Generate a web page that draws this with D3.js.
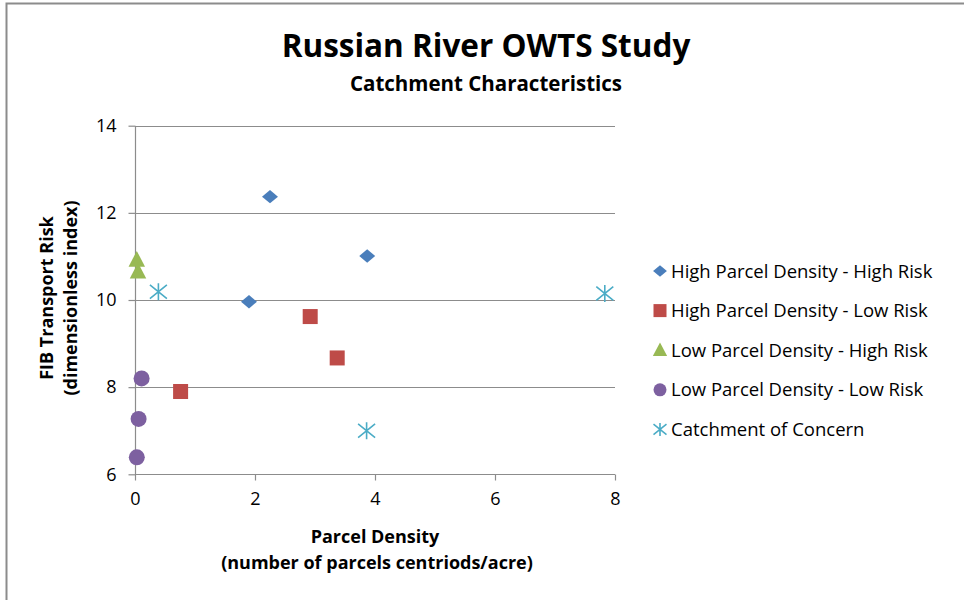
<!DOCTYPE html>
<html>
<head>
<meta charset="utf-8">
<script src="https://cdn.jsdelivr.net/npm/d3@7"></script>
<style>
  body { margin: 0; background: #fff; }
  text { font-family: "Open Sans", sans-serif; fill: #000; }
</style>
</head>
<body>
<svg width="964" height="600"></svg>
<script>
// DATA
var seriesNames = ["High Parcel Density - High Risk", "High Parcel Density - Low Risk",
                   "Low Parcel Density - High Risk", "Low Parcel Density - Low Risk",
                   "Catchment of Concern"];
var highHighX = [2.25, 1.9, 3.87];
var highHighY = [12.37, 9.96, 11.01];
var highLowX = [0.76, 2.92, 3.37];
var highLowY = [7.9, 9.62, 8.67];
var lowHighX = [0.03, 0.05];
var lowHighY = [10.92, 10.65];
var lowLowX = [0.11, 0.06, 0.03];
var lowLowY = [8.2, 7.27, 6.39];
var concernX = [0.39, 3.86, 7.83];
var concernY = [10.19, 7.0, 10.15];
var xTicks = [0, 2, 4, 6, 8];
var yTicks = [6, 8, 10, 12, 14];

var svg = d3.select("svg");

// chart border
svg.append("rect")
    .attr("x", 6.5).attr("y", 3.5)
    .attr("width", 1000).attr("height", 700)
    .attr("fill", "none").attr("stroke", "#8c8c8c").attr("stroke-width", 2);

var x = d3.scaleLinear().domain([0, 8]).range([135, 615]);
var y = d3.scaleLinear().domain([6, 14]).range([474.3, 125.7]);
var y0 = Math.round(y(6)) + 0.5;

// GRID
svg.append("g").selectAll("line")
    .data(yTicks.slice(1))
    .enter().append("line")
    .attr("x1", 135).attr("x2", 615)
    .attr("y1", function(d) { return Math.round(y(d)) + 0.5; })
    .attr("y2", function(d) { return Math.round(y(d)) + 0.5; })
    .attr("stroke", "#8c8c8c").attr("stroke-width", 1.2);

// AXES
var xAxis = svg.append("g")
    .attr("transform", "translate(0," + y0 + ")")
    .call(d3.axisBottom(x).tickValues(xTicks).tickSize(6).tickPadding(12));
var yAxis = svg.append("g")
    .attr("transform", "translate(" + (x(0) + 0.5) + ",0)")
    .call(d3.axisLeft(y).tickValues(yTicks).tickSize(7).tickPadding(12));
[xAxis, yAxis].forEach(function(a) {
    a.select(".domain").attr("stroke", "#8c8c8c").attr("stroke-width", 1.2);
    a.selectAll(".tick line").attr("stroke", "#8c8c8c").attr("stroke-width", 1.2);
    a.selectAll(".tick text")
        .style("font-family", "'Open Sans', sans-serif")
        .style("font-size", "18px").attr("fill", "#000");
});
xAxis.select(".domain").attr("d", "M135,0H615");
yAxis.select(".domain").attr("d", "M0,126V" + y0);

// MARKERS
function marker(g, type, color, s) {
    if (type == "diamond") {
        g.append("path").attr("d", d3.symbol(d3.symbolDiamond2, s * s * 0.5)()).attr("fill", color)
            .attr("transform", "scale(1.2,1)");
    } else if (type == "square") {
        g.append("rect").attr("x", -s / 2).attr("y", -s / 2)
            .attr("width", s).attr("height", s).attr("fill", color);
    } else if (type == "triangle") {
        g.append("path").attr("d", "M0," + (-s * 0.6) + "L" + (s * 0.55) + "," + (s * 0.45) +
                              "L" + (-s * 0.55) + "," + (s * 0.45) + "Z").attr("fill", color);
    } else if (type == "circle") {
        g.append("circle").attr("r", s / 2).attr("fill", color);
    } else {
        var r = s / 2;
        g.append("path")
            .attr("d", "M0," + (-r) + "V" + r +
                       "M" + (-r) + "," + (-r * 0.8) + "L" + r + "," + (r * 0.8) +
                       "M" + (-r) + "," + (r * 0.8) + "L" + r + "," + (-r * 0.8))
            .attr("stroke", color).attr("stroke-width", 1.6).attr("fill", "none");
    }
}

var series = [
    { name: seriesNames[0], xs: highHighX, ys: highHighY, type: "diamond", color: "#4a7ebb", size: 15 },
    { name: seriesNames[1], xs: highLowX, ys: highLowY, type: "square", color: "#be4b48", size: 15 },
    { name: seriesNames[2], xs: lowHighX, ys: lowHighY, type: "triangle", color: "#98b954", size: 15 },
    { name: seriesNames[3], xs: lowLowX, ys: lowLowY, type: "circle", color: "#7d60a0", size: 16 },
    { name: seriesNames[4], xs: concernX, ys: concernY, type: "star", color: "#4bacc6", size: 17 }
];

series.forEach(function(s) {
    s.xs.forEach(function(v, i) {
        var g = svg.append("g")
            .attr("transform", "translate(" + x(v) + "," + y(s.ys[i]) + ")");
        marker(g, s.type, s.color, s.size);
    });
});

// LEGEND
var legend = svg.append("g").attr("transform", "translate(660,271)");
series.forEach(function(s, i) {
    var row = legend.append("g").attr("transform", "translate(0," + (i * 39.6) + ")");
    marker(row, s.type, s.color, 13);
    row.append("text").attr("x", 11).attr("y", 6.5)
        .style("font-size", "18.5px").text(s.name);
});

// TITLES
svg.append("text").attr("x", 486).attr("y", 57).attr("text-anchor", "middle")
    .style("font-size", "31.5px").style("font-weight", "bold").text("Russian River OWTS Study");
svg.append("text").attr("x", 486).attr("y", 91).attr("text-anchor", "middle")
    .style("font-size", "20.5px").style("font-weight", "bold").text("Catchment Characteristics");

svg.append("text").attr("x", 375).attr("y", 543).attr("text-anchor", "middle")
    .style("font-size", "18px").style("font-weight", "bold").text("Parcel Density");
svg.append("text").attr("x", 377).attr("y", 569).attr("text-anchor", "middle")
    .style("font-size", "18px").style("font-weight", "bold").text("(number of parcels centriods/acre)");

svg.append("text").attr("transform", "translate(53,298) rotate(-90)").attr("text-anchor", "middle")
    .style("font-size", "18px").style("font-weight", "bold").text("FIB Transport Risk");
svg.append("text").attr("transform", "translate(77,298) rotate(-90)").attr("text-anchor", "middle")
    .style("font-size", "18px").style("font-weight", "bold").text("(dimensionless index)");
</script>
</body>
</html>
